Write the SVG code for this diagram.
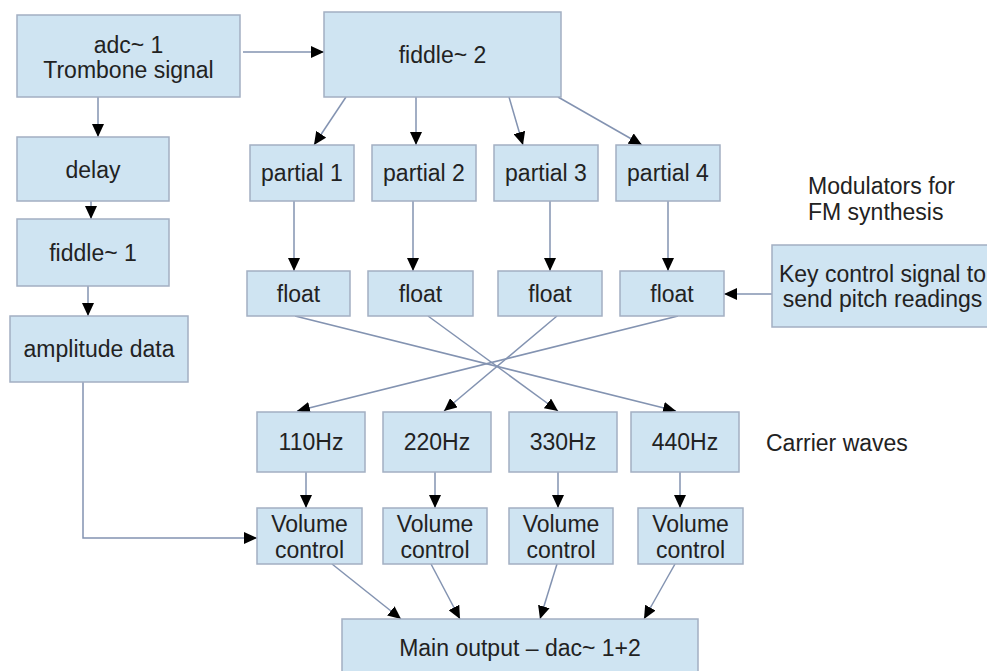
<svg xmlns="http://www.w3.org/2000/svg" width="987" height="671" viewBox="0 0 987 671">
<defs>
<marker id="ah" markerUnits="userSpaceOnUse" markerWidth="14" markerHeight="12" refX="13" refY="6" orient="auto">
<path d="M0,0 L13,6 L0,12 z" fill="#000"/>
</marker>
<style>
.box{fill:#cfe4f2;stroke:#a3afc2;stroke-width:1.5}
text{font-family:"Liberation Sans",Arial,sans-serif;font-size:23px;fill:#222}
.c{text-anchor:middle}
.ln{stroke:#8393b1;stroke-width:1.5;fill:none;marker-end:url(#ah)}
</style>
</defs>
<rect width="987" height="671" fill="#fff"/>

<g id="connectors">
<line class="ln" x1="243" y1="52" x2="324" y2="52"/>
<line class="ln" x1="98" y1="97" x2="98" y2="137"/>
<line class="ln" x1="91" y1="201" x2="91" y2="219"/>
<line class="ln" x1="88" y1="286" x2="88" y2="316"/>
<polyline class="ln" points="83,382 83,538 257,538"/>
<line class="ln" x1="346" y1="97" x2="314" y2="145"/>
<line class="ln" x1="416" y1="97" x2="416" y2="145"/>
<line class="ln" x1="509" y1="97" x2="523" y2="145"/>
<line class="ln" x1="558" y1="97" x2="642" y2="145"/>
<line class="ln" x1="294" y1="201" x2="294" y2="271"/>
<line class="ln" x1="413" y1="201" x2="413" y2="271"/>
<line class="ln" x1="550" y1="201" x2="550" y2="271"/>
<line class="ln" x1="668" y1="201" x2="668" y2="271"/>
<line class="ln" x1="772" y1="294" x2="724" y2="294"/>
<line class="ln" x1="295" y1="316" x2="676" y2="411"/>
<line class="ln" x1="428" y1="316" x2="558" y2="411"/>
<line class="ln" x1="557" y1="316" x2="444" y2="411"/>
<line class="ln" x1="678" y1="316" x2="297" y2="411"/>
<line class="ln" x1="306" y1="472" x2="306" y2="508"/>
<line class="ln" x1="435" y1="472" x2="435" y2="508"/>
<line class="ln" x1="558" y1="472" x2="558" y2="508"/>
<line class="ln" x1="680" y1="472" x2="680" y2="508"/>
<line class="ln" x1="332" y1="564" x2="401" y2="619"/>
<line class="ln" x1="431" y1="564" x2="460" y2="619"/>
<line class="ln" x1="557" y1="564" x2="540" y2="619"/>
<line class="ln" x1="675" y1="564" x2="644" y2="619"/>
</g>

<g id="adc"><rect class="box" x="17" y="15" width="223" height="82"/><text class="c" x="128.5" y="53">adc~ 1</text><text class="c" x="128.5" y="78">Trombone signal</text></g>
<g id="fiddle2"><rect class="box" x="324" y="12" width="237" height="85"/><text class="c" x="442.5" y="63">fiddle~ 2</text></g>
<g id="delay"><rect class="box" x="17" y="137" width="152" height="64"/><text class="c" x="93" y="178">delay</text></g>
<g id="fiddle1"><rect class="box" x="17" y="219" width="152" height="67"/><text class="c" x="93" y="261">fiddle~ 1</text></g>
<g id="amplitude"><rect class="box" x="10" y="316" width="178" height="66"/><text class="c" x="99" y="357">amplitude data</text></g>

<g id="partial1"><rect class="box" x="250" y="145" width="104" height="56"/><text class="c" x="302" y="181">partial 1</text></g>
<g id="partial2"><rect class="box" x="372" y="145" width="104" height="56"/><text class="c" x="424" y="181">partial 2</text></g>
<g id="partial3"><rect class="box" x="494" y="145" width="104" height="56"/><text class="c" x="546" y="181">partial 3</text></g>
<g id="partial4"><rect class="box" x="616" y="145" width="104" height="56"/><text class="c" x="668" y="181">partial 4</text></g>

<g id="modulators-label"><text x="808" y="194">Modulators for</text><text x="808" y="220">FM synthesis</text></g>

<g id="float1"><rect class="box" x="247" y="271" width="103" height="45"/><text class="c" x="298.5" y="302">float</text></g>
<g id="float2"><rect class="box" x="368" y="271" width="105" height="45"/><text class="c" x="420.5" y="302">float</text></g>
<g id="float3"><rect class="box" x="498" y="271" width="104" height="45"/><text class="c" x="550" y="302">float</text></g>
<g id="float4"><rect class="box" x="620" y="271" width="104" height="45"/><text class="c" x="672" y="302">float</text></g>

<g id="key"><rect class="box" x="772" y="245" width="222" height="82"/><text class="c" x="882.5" y="282">Key control signal to</text><text class="c" x="882.5" y="307">send pitch readings</text></g>

<g id="hz110"><rect class="box" x="257" y="412" width="108" height="60"/><text class="c" x="311" y="450">110Hz</text></g>
<g id="hz220"><rect class="box" x="383" y="412" width="108" height="60"/><text class="c" x="437" y="450">220Hz</text></g>
<g id="hz330"><rect class="box" x="509" y="412" width="108" height="60"/><text class="c" x="563" y="450">330Hz</text></g>
<g id="hz440"><rect class="box" x="631" y="412" width="108" height="60"/><text class="c" x="685" y="450">440Hz</text></g>

<g id="carrier-label"><text x="766" y="451">Carrier waves</text></g>

<g id="vol1"><rect class="box" x="257" y="508" width="105" height="56"/><text class="c" x="309.5" y="532">Volume</text><text class="c" x="309.5" y="558">control</text></g>
<g id="vol2"><rect class="box" x="383" y="508" width="104" height="56"/><text class="c" x="435" y="532">Volume</text><text class="c" x="435" y="558">control</text></g>
<g id="vol3"><rect class="box" x="509" y="508" width="104" height="56"/><text class="c" x="561" y="532">Volume</text><text class="c" x="561" y="558">control</text></g>
<g id="vol4"><rect class="box" x="638" y="508" width="105" height="56"/><text class="c" x="690.5" y="532">Volume</text><text class="c" x="690.5" y="558">control</text></g>

<g id="main-output"><rect class="box" x="342" y="619" width="356" height="70"/><text class="c" x="520" y="656">Main output – dac~ 1+2</text></g>
</svg>
